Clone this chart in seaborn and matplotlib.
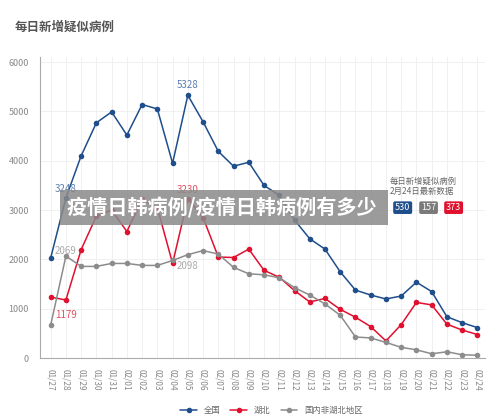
import matplotlib
matplotlib.use("Agg")
import matplotlib.pyplot as plt
import seaborn as sns
import pandas as pd

sns.set_theme(style="whitegrid")
plt.rcParams['font.family'] = ['Noto Sans CJK SC', 'DejaVu Sans']

dates = ["01/27","01/28","01/29","01/30","01/31","02/01","02/02","02/03","02/04","02/05",
         "02/06","02/07","02/08","02/09","02/10","02/11","02/12","02/13","02/14","02/15",
         "02/16","02/17","02/18","02/19","02/20","02/21","02/22","02/23","02/24"]
national = [2030,3248,4100,4770,4990,4520,5140,5050,3950,5328,4790,4190,3890,3970,3500,3300,
            2800,2420,2210,1750,1380,1280,1200,1260,1540,1350,840,720,620]
hubei = [1239,1179,2200,2880,3000,2567,3220,3050,1920,3230,2850,2050,2040,2210,1780,1640,
         1370,1140,1210,990,830,640,350,680,1130,1080,690,570,480]
others = [670,2069,1860,1860,1920,1920,1880,1880,1980,2098,2180,2110,1840,1710,1690,1630,
          1430,1280,1100,870,430,410,320,220,170,90,130,70,60]
names = ["全国", "湖北", "国内非湖北地区"]
colors = ["#1f4e8c", "#e0102f", "#8c8c8c"]

df = pd.DataFrame({"date": dates * 3, "value": national + hubei + others,
                   "series": sum([[n] * len(dates) for n in names], [])})
df["x"] = list(range(len(dates))) * 3

fig = plt.figure(figsize=(5, 4.17), dpi=100)
ax = fig.add_axes([0.08, 0.141, 0.89, 0.722])
sns.lineplot(data=df, x="x", y="value", hue="series", palette=colors, marker="o",
             markersize=4, markeredgewidth=0, linewidth=1.1, ax=ax, legend=True)
ax.set_xlim(-0.7, len(dates) - 0.5)
ax.set_ylim(0, 6100)
ax.set_yticks([0, 1000, 2000, 3000, 4000, 5000, 6000])
ax.set_xticks(range(len(dates)))
ax.set_xticklabels(dates, rotation=270, fontsize=6, color="#888888")
ax.tick_params(axis="y", labelsize=6.5, colors="#888888", pad=2)
ax.tick_params(axis="x", pad=2)
ax.set_xlabel(""); ax.set_ylabel("")
ax.grid(color="#eeeeee", linewidth=0.6)
for s in ["top", "right"]:
    ax.spines[s].set_visible(False)
for s in ["left", "bottom"]:
    ax.spines[s].set_color("#aaaaaa"); ax.spines[s].set_linewidth(0.8)

ax.text(1, 3248 + 120, "3248", color="#5a7fae", fontsize=7, ha="center")
ax.text(9, 5328 + 150, "5328", color="#5a7fae", fontsize=7, ha="center")
ax.text(9, 3230 + 120, "3230", color="#e05060", fontsize=7, ha="center")
ax.text(1, 1179 - 200, "1179", color="#e05060", fontsize=7, ha="center", va="top")
ax.text(1, 2069 + 40, "2069", color="#aaaaaa", fontsize=7, ha="center")
ax.text(9, 2098 - 130, "2098", color="#aaaaaa", fontsize=7, ha="center", va="top")

h, l = ax.get_legend_handles_labels()
ax.legend(h, l, loc="center", bbox_to_anchor=(0.52, -0.175), ncol=3, frameon=False,
          fontsize=6, handlelength=2, columnspacing=1.2, labelcolor="#666666")

fig.text(0.03, 0.925, "每日新增疑似病例", fontsize=9, fontweight="bold", color="#555555")
fig.text(0.78, 0.535, "每日新增疑似病例\n2月24日最新数据", fontsize=6, color="#666666",
         linespacing=1.1)
for xx, txt, c in [(0.79, "530", colors[0]), (0.842, "157", "#7a7a7a"), (0.892, "373", colors[1])]:
    fig.text(xx, 0.502, txt, fontsize=6.5, color="white", ha="left", va="center",
             bbox=dict(boxstyle="round,pad=0.2", fc=c, ec="none"))
fig.text(0.134, 0.502, "疫情日韩病例/疫情日韩病例有多少 ", fontsize=14.5, fontweight="bold",
         color="white", va="center",
         bbox=dict(boxstyle="square,pad=0.35", fc="#8a8a8a", ec="none", alpha=0.85))
fig.savefig("out.png", dpi=100, facecolor="white")
